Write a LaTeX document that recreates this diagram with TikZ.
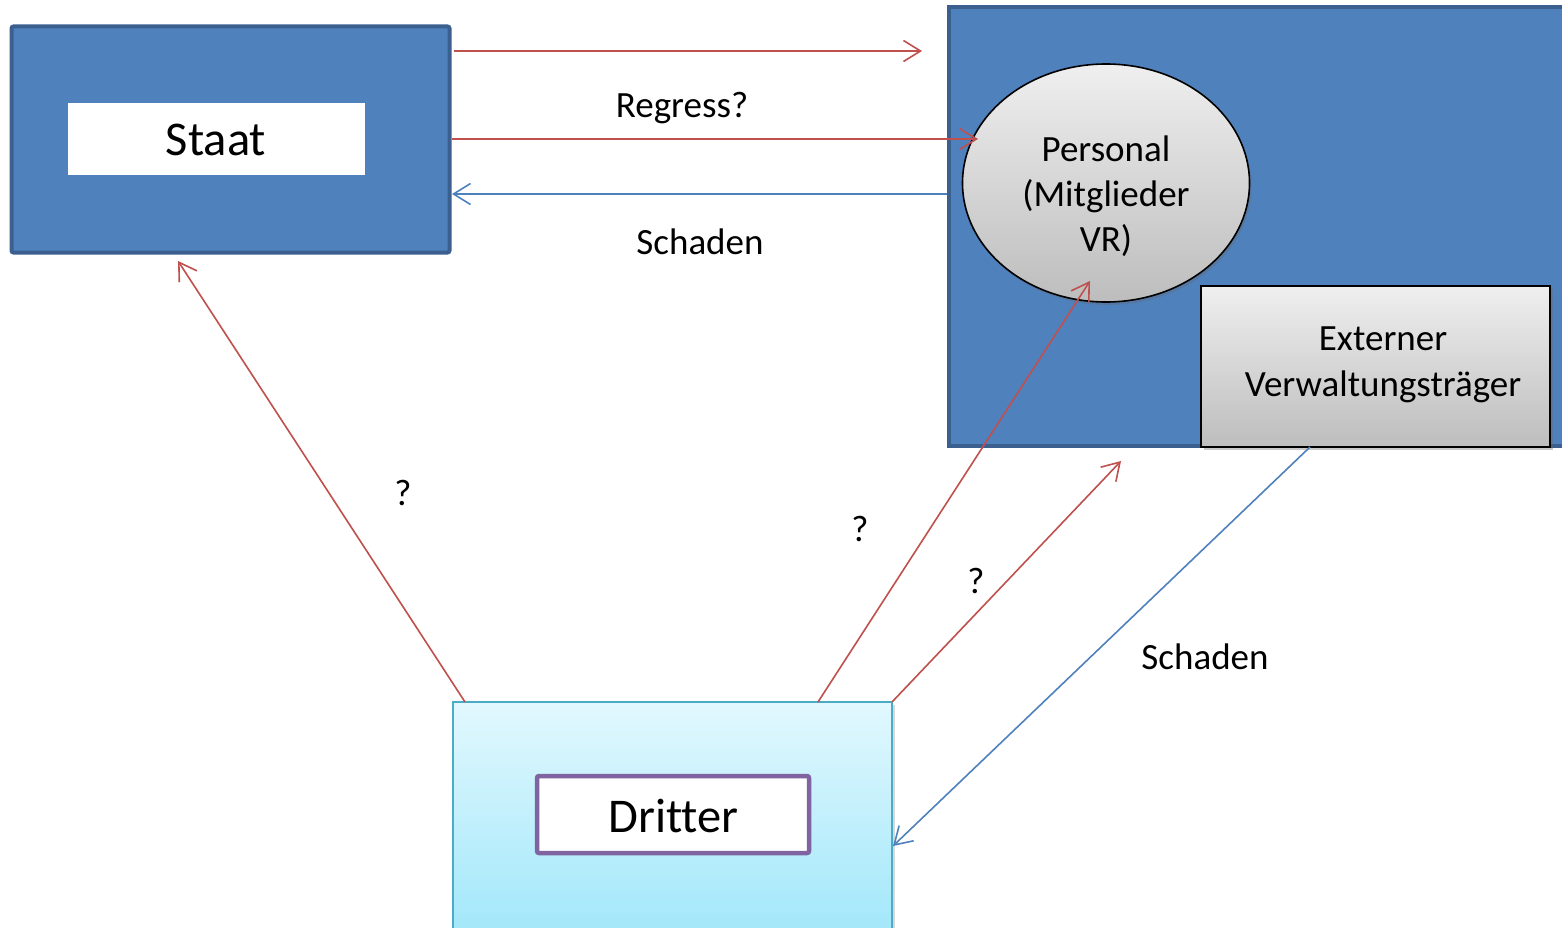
\documentclass[tikz,border=0pt]{standalone}
\usepackage{fontspec}
\setmainfont[Ligatures=CommonOff]{Carlito}
\usetikzlibrary{arrows.meta,shapes.geometric,shadows}
\definecolor{boxblue}{HTML}{4F81BD}
\definecolor{boxborder}{HTML}{3B6090}
\definecolor{arrred}{HTML}{C0504D}
\definecolor{arrblue}{HTML}{4F81BD}
\definecolor{cyantop}{HTML}{E2F8FE}
\definecolor{cyanbot}{HTML}{A0E7FA}
\definecolor{cyanborder}{HTML}{4BACC6}
\definecolor{purpleborder}{HTML}{8064A2}
\definecolor{graytop}{HTML}{EFEFEF}
\definecolor{graybot}{HTML}{BDBDBD}
\begin{document}
\begin{tikzpicture}[x=1pt,y=-1pt,
  redarr/.style={draw=arrred, line width=1.6pt, -{Straight Barb[length=17pt,width=21pt]}},
  bluearr/.style={draw=arrblue, line width=1.6pt, -{Straight Barb[length=17pt,width=21pt]}},
  lbl/.style={font=\fontsize{37}{45}\selectfont, anchor=base, inner sep=0pt},
  biglbl/.style={font=\fontsize{48.5}{56}\selectfont, anchor=base, inner sep=0pt},
  bluebox/.style={draw=boxborder, fill=boxblue, line width=4pt, outer sep=0pt, inner sep=0pt, rounded corners=2pt},
  graybox/.style={draw=black, line width=2pt, top color=graytop, bottom color=graybot, outer sep=0pt, inner sep=0pt,
    drop shadow={shadow xshift=3pt, shadow yshift=-3pt, opacity=0.35, fill=black!60}},
  cyanbox/.style={draw=cyanborder, line width=1.5pt, top color=cyantop, bottom color=cyanbot, outer sep=0pt, inner sep=0pt,
    drop shadow={shadow xshift=3pt, shadow yshift=-3pt, opacity=0.3, fill=black!50}},
]
\clip (0,0) rectangle (1562,928);
\fill[white] (0,0) rectangle (1562,928);

% Staat
\node[bluebox, minimum width=438pt, minimum height=226pt] (staat) at (230.5,139.5) {};
\node[fill=white, minimum width=297pt, minimum height=72pt, inner sep=0pt, outer sep=0pt] (staatin) at (216.5,139) {};
\node[biglbl] (staattxt) at (216,156) {Staat};

% Organisation (right big box)
\node[bluebox, rounded corners=0pt, minimum width=641pt, minimum height=439pt] (org) at (1269.5,226.5) {};

% Personal ellipse
\node[ellipse, draw=black, line width=1.6pt, top color=graytop, bottom color=graybot, minimum width=287pt, minimum height=238pt, inner sep=0pt, outer sep=0pt,
  drop shadow={shadow xshift=2pt, shadow yshift=-3pt, opacity=0.3, fill=black!60}] (pers) at (1106,183) {};
\node[lbl] (pers1) at (1106,162) {Personal};
\node[lbl] (pers2) at (1106,207) {(Mitglieder};
\node[lbl] (pers3) at (1106,251) {VR)};

% Externer Verwaltungstraeger
\node[graybox, minimum width=349pt, minimum height=161pt] (ext) at (1375.5,366.5) {};
\node[lbl] (ext1) at (1383,350) {Externer};
\node[lbl] (ext2) at (1383,396) {Verwaltungsträger};

% Dritter
\node[cyanbox, minimum width=439pt, minimum height=238pt] (dritt) at (672.5,821) {};
\node[draw=purpleborder, fill=white, line width=4.5pt, rounded corners=2pt, minimum width=272pt, minimum height=77pt, inner sep=0pt, outer sep=0pt] (drittin) at (673,814.5) {};
\node[biglbl] (dritttxt) at (673.5,832) {Dritter};

% connector end points
\coordinate (a1s) at (454,51);
\coordinate (a1e) at (922,51);
\coordinate (a2s) at (452,139);
\coordinate (a2e) at (978,139);
\coordinate (a3s) at (947,194);
\coordinate (a3e) at (452,194);
\coordinate (a4s) at (465,702);
\coordinate (a4e) at (178,261);
\coordinate (a5s) at (818,702);
\coordinate (a5e) at (1090,281);
\coordinate (a6s) at (892,702);
\coordinate (a6e) at (1121,461);
\coordinate (a7s) at (1310,447);
\coordinate (a7e) at (893,846);

\draw[redarr] (a1s) -- (a1e);
\draw[redarr] (a2s) -- (a2e);
\draw[bluearr] (a3s) -- (a3e);
\draw[redarr] (a4s) -- (a4e);
\draw[redarr] (a5s) -- (a5e);
\draw[redarr] (a6s) -- (a6e);
\draw[bluearr] (a7s) -- (a7e);

% labels
\node[lbl] (regress) at (682,118) {Regress?};
\node[lbl] (schaden1) at (700,254) {Schaden};
\node[lbl] (q1) at (403,505) {?};
\node[lbl] (q2) at (860,541) {?};
\node[lbl] (q3) at (976,593) {?};
\node[lbl] (schaden2) at (1205,669) {Schaden};
\end{tikzpicture}
\end{document}
